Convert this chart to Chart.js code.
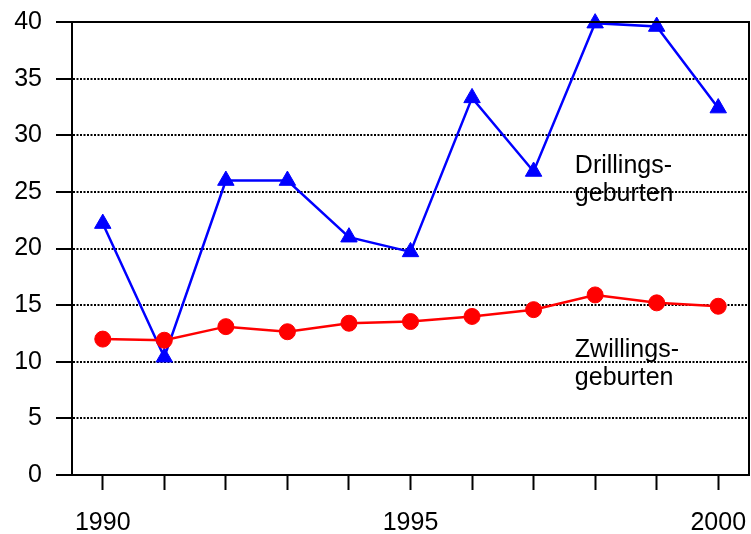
<!DOCTYPE html>
<html>
<head>
<meta charset="utf-8">
<script src="https://cdn.jsdelivr.net/npm/chart.js@4/dist/chart.umd.min.js"></script>
<style>
html,body{margin:0;padding:0;background:#fff;}
#wrap{width:751px;height:534px;position:relative;}
</style>
</head>
<body>
<div id="wrap"><canvas id="c" width="751" height="534"></canvas></div>
<script>
const years = ['1990','1991','1992','1993','1994','1995','1996','1997','1998','1999','2000'];
const zwillinge = [12.0, 11.9, 13.1, 12.65, 13.4, 13.55, 14.0, 14.6, 15.9, 15.2, 14.9];
const drillinge = [22.2, 10.4, 26.0, 26.0, 21.0, 19.7, 33.3, 26.8, 39.9, 39.6, 32.4];
const yTicks = [0, 5, 10, 15, 20, 25, 30, 35, 40];
const shownYearLabels = ['1990', '1995', '2000'];
const seriesLabels = [
  {lines: ['Drillings-', 'geburten'], at: 7.67, value: 26.67},
  {lines: ['Zwillings-', 'geburten'], at: 7.67, value: 10.45}
];

const FONT = '"Liberation Sans", Arial, sans-serif';

const framePlugin = {
  id: 'frame',
  afterDraw(chart) {
    const {ctx, chartArea: a} = chart;
    ctx.save();
    ctx.strokeStyle = '#000';
    ctx.lineWidth = 2;
    ctx.setLineDash([]);
    ctx.beginPath();
    ctx.moveTo(a.left, a.top);
    ctx.lineTo(a.right, a.top);
    ctx.lineTo(a.right, a.bottom);
    ctx.stroke();
    ctx.restore();
  }
};

const labelPlugin = {
  id: 'seriesText',
  afterDatasetsDraw(chart) {
    const {ctx} = chart;
    const xs = chart.scales.x, ys = chart.scales.y;
    ctx.save();
    ctx.fillStyle = '#000';
    ctx.font = '25px ' + FONT;
    ctx.textAlign = 'left';
    ctx.textBaseline = 'alphabetic';
    seriesLabels.forEach(l => {
      const px = xs.getPixelForValue(l.at);
      const py = ys.getPixelForValue(l.value);
      l.lines.forEach((t, i) => ctx.fillText(t, px, py + i * 28));
    });
    ctx.restore();
  }
};

new Chart(document.getElementById('c'), {
  type: 'line',
  data: {
    labels: years,
    datasets: [
      {
        label: 'Zwillingsgeburten',
        data: zwillinge,
        borderColor: '#ff0000',
        backgroundColor: '#ff0000',
        borderWidth: 2.5,
        pointStyle: 'circle',
        pointRadius: 8,
        pointBorderWidth: 1,
        tension: 0,
        clip: false
      },
      {
        label: 'Drillingsgeburten',
        data: drillinge,
        borderColor: '#0000ff',
        backgroundColor: '#0000ff',
        borderWidth: 2.5,
        pointStyle: 'triangle',
        pointRadius: 9.5,
        pointBorderWidth: 1,
        tension: 0,
        clip: false
      }
    ]
  },
  options: {
    responsive: false,
    animation: false,
    devicePixelRatio: 1,
    layout: {autoPadding: false, padding: {left: 0, right: 2, top: 22, bottom: 0}},
    plugins: {legend: {display: false}, tooltip: {enabled: false}},
    scales: {
      x: {
        type: 'category',
        offset: true,
        afterFit(s) { s.height = 59; s.paddingLeft = 0; s.paddingRight = 0; },
        grid: {
          drawOnChartArea: false,
          drawTicks: true,
          tickLength: 15,
          tickWidth: 2,
          tickColor: '#000'
        },
        border: {display: true, color: '#000', width: 2},
        ticks: {
          autoSkip: false,
          maxRotation: 0,
          padding: 18,
          color: '#000',
          font: {family: FONT, size: 25},
          callback(v, i) { const l = years[i]; return shownYearLabels.includes(l) ? l : ''; }
        }
      },
      y: {
        min: 0,
        max: 40,
        afterFit(s) { s.width = 72; s.paddingTop = 0; s.paddingBottom = 0; },
        afterBuildTicks(s) { s.ticks = yTicks.map(v => ({value: v})); },
        grid: {
          color: ctx => (ctx.tick && (ctx.tick.value === 0 || ctx.tick.value === 40)) ? 'rgba(0,0,0,0)' : '#000',
          lineWidth: 2,
          tickColor: '#000',
          tickWidth: 2,
          tickLength: 16
        },
        border: {display: true, color: '#000', width: 2, dash: [2, 1.5]},
        ticks: {
          padding: 14,
          color: '#000',
          font: {family: FONT, size: 25}
        }
      }
    }
  },
  plugins: [framePlugin, labelPlugin]
});
</script>
</body>
</html>
